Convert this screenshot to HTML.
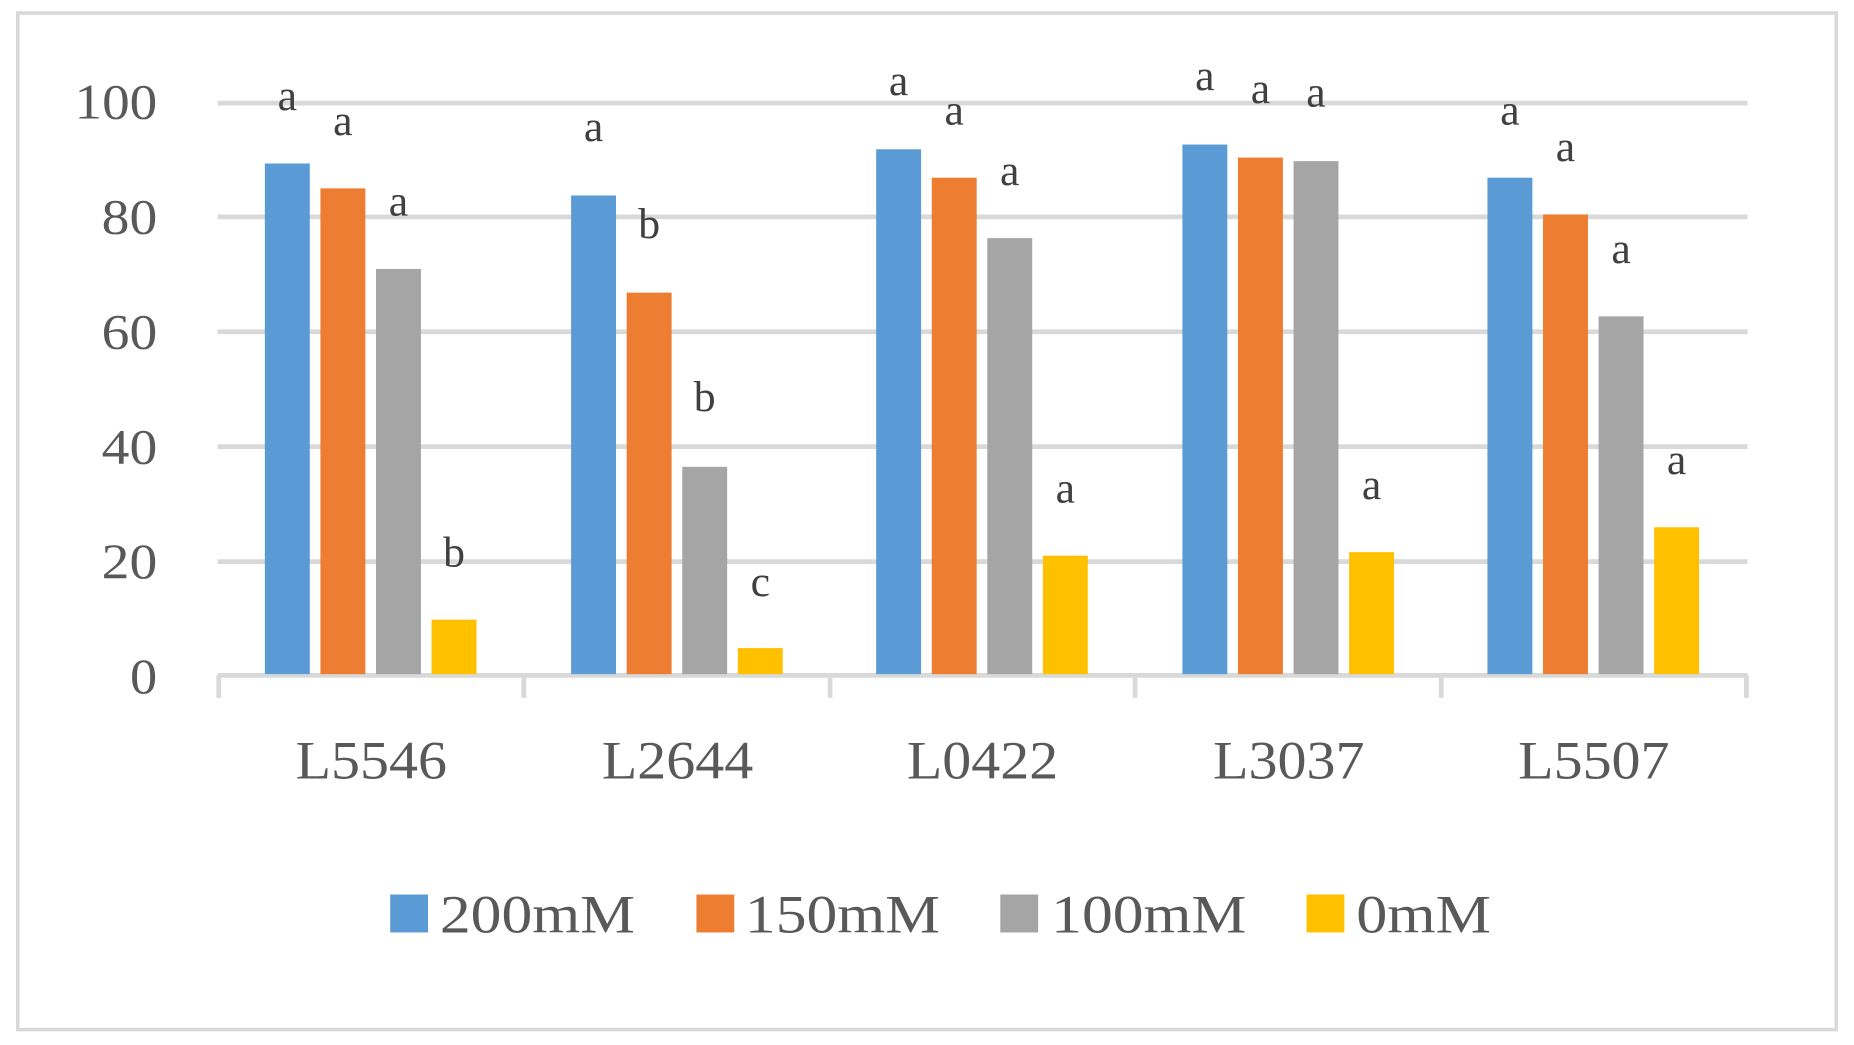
<!DOCTYPE html>
<html><head><style>html,body{margin:0;padding:0;background:#fff}svg{display:block}</style></head><body>
<svg width="1854" height="1045" viewBox="0 0 1568 882" preserveAspectRatio="none" font-family="'Liberation Serif',serif">
<rect x="0" y="0" width="1568" height="882" fill="#fff"/>
<rect x="15" y="11" width="1538" height="858" fill="none" stroke="#d9d9d9" stroke-width="3"/>
<g stroke="#d9d9d9" stroke-width="4">
<line x1="184" x2="1478" y1="87" y2="87"/><line x1="184" x2="1478" y1="183" y2="183"/>
<line x1="184" x2="1478" y1="280" y2="280"/><line x1="184" x2="1478" y1="377" y2="377"/>
<line x1="184" x2="1478" y1="474" y2="474"/><line x1="184" x2="1478" y1="570" y2="570"/>
<line x1="185" x2="185" y1="570" y2="589"/><line x1="443" x2="443" y1="570" y2="589"/>
<line x1="702" x2="702" y1="570" y2="589"/><line x1="960" x2="960" y1="570" y2="589"/>
<line x1="1219" x2="1219" y1="570" y2="589"/><line x1="1477" x2="1477" y1="570" y2="589"/>
</g>
<g fill="#595959" font-size="42" text-anchor="end">
<text x="133" y="100" textLength="70" lengthAdjust="spacingAndGlyphs">100</text>
<text x="133" y="197" textLength="47" lengthAdjust="spacingAndGlyphs">80</text>
<text x="133" y="294" textLength="47" lengthAdjust="spacingAndGlyphs">60</text>
<text x="133" y="391" textLength="47" lengthAdjust="spacingAndGlyphs">40</text>
<text x="133" y="488" textLength="47" lengthAdjust="spacingAndGlyphs">20</text>
<text x="133" y="585" textLength="23" lengthAdjust="spacingAndGlyphs">0</text>
</g>
<g>
<rect x="224" y="138" width="38" height="431" fill="#5b9bd5"/>
<rect x="271" y="159" width="38" height="410" fill="#ed7d31"/>
<rect x="318" y="227" width="38" height="342" fill="#a5a5a5"/>
<rect x="365" y="523" width="38" height="46" fill="#ffc000"/>
<rect x="483" y="165" width="38" height="404" fill="#5b9bd5"/>
<rect x="530" y="247" width="38" height="322" fill="#ed7d31"/>
<rect x="577" y="394" width="38" height="175" fill="#a5a5a5"/>
<rect x="624" y="547" width="38" height="22" fill="#ffc000"/>
<rect x="741" y="126" width="38" height="443" fill="#5b9bd5"/>
<rect x="788" y="150" width="38" height="419" fill="#ed7d31"/>
<rect x="835" y="201" width="38" height="368" fill="#a5a5a5"/>
<rect x="882" y="469" width="38" height="100" fill="#ffc000"/>
<rect x="1000" y="122" width="38" height="447" fill="#5b9bd5"/>
<rect x="1047" y="133" width="38" height="436" fill="#ed7d31"/>
<rect x="1094" y="136" width="38" height="433" fill="#a5a5a5"/>
<rect x="1141" y="466" width="38" height="103" fill="#ffc000"/>
<rect x="1258" y="150" width="38" height="419" fill="#5b9bd5"/>
<rect x="1305" y="181" width="38" height="388" fill="#ed7d31"/>
<rect x="1352" y="267" width="38" height="302" fill="#a5a5a5"/>
<rect x="1399" y="445" width="38" height="124" fill="#ffc000"/>
</g>
<g fill="#404040" font-size="37" text-anchor="middle">
<text x="243" y="93">a</text><text x="290" y="114">a</text><text x="337" y="182">a</text><text x="384" y="478">b</text>
<text x="502" y="119">a</text><text x="549" y="201">b</text><text x="596" y="347">b</text><text x="643" y="503">c</text>
<text x="760" y="80">a</text><text x="807" y="105">a</text><text x="854" y="156">a</text><text x="901" y="424">a</text>
<text x="1019" y="76">a</text><text x="1066" y="87">a</text><text x="1113" y="90">a</text><text x="1160" y="421">a</text>
<text x="1277" y="105">a</text><text x="1324" y="136">a</text><text x="1371" y="222">a</text><text x="1418" y="400">a</text>
</g>
<g fill="#595959" font-size="46" text-anchor="middle">
<text x="314" y="657" textLength="128" lengthAdjust="spacingAndGlyphs">L5546</text>
<text x="573" y="657" textLength="128" lengthAdjust="spacingAndGlyphs">L2644</text>
<text x="831" y="657" textLength="128" lengthAdjust="spacingAndGlyphs">L0422</text>
<text x="1090" y="657" textLength="128" lengthAdjust="spacingAndGlyphs">L3037</text>
<text x="1348" y="657" textLength="128" lengthAdjust="spacingAndGlyphs">L5507</text>
</g>
<rect x="330" y="755" width="32" height="32" fill="#5b9bd5"/>
<rect x="589" y="755" width="32" height="32" fill="#ed7d31"/>
<rect x="846" y="755" width="32" height="32" fill="#a5a5a5"/>
<rect x="1105" y="755" width="32" height="32" fill="#ffc000"/>
<g fill="#595959" font-size="46">
<text x="372" y="787" textLength="165" lengthAdjust="spacingAndGlyphs">200mM</text>
<text x="630" y="787" textLength="165" lengthAdjust="spacingAndGlyphs">150mM</text>
<text x="889" y="787" textLength="165" lengthAdjust="spacingAndGlyphs">100mM</text>
<text x="1147" y="787" textLength="114" lengthAdjust="spacingAndGlyphs">0mM</text>
</g>
</svg>
</body></html>
